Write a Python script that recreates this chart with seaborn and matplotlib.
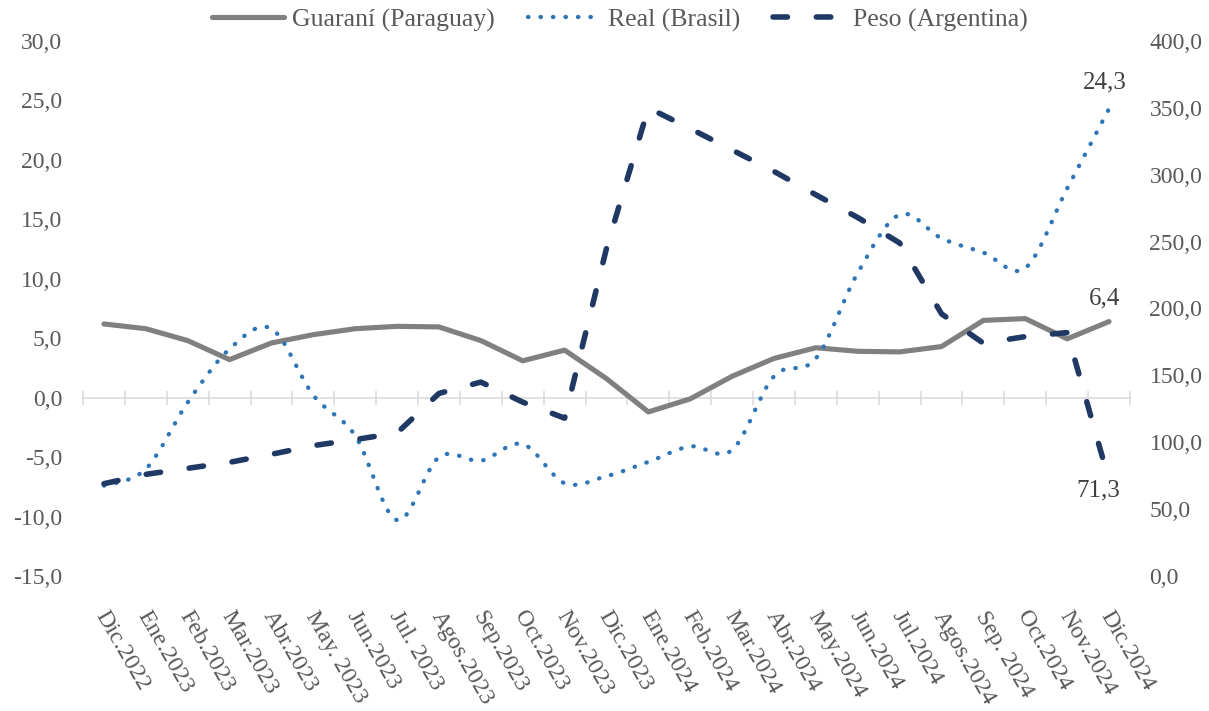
import numpy as np
import pandas as pd
import matplotlib
matplotlib.use("Agg")
import matplotlib.pyplot as plt
import matplotlib.transforms as mtransforms
import seaborn as sns
from matplotlib.path import Path
from matplotlib.patches import PathPatch
from matplotlib.lines import Line2D

categories = ["Dic.2022", "Ene.2023", "Feb.2023", "Mar.2023", "Abr.2023", "May. 2023",
              "Jun.2023", "Jul. 2023", "Agos.2023", "Sep.2023", "Oct.2023", "Nov.2023",
              "Dic.2023", "Ene.2024", "Feb.2024", "Mar.2024", "Abr.2024", "May.2024",
              "Jun.2024", "Jul.2024", "Agos.2024", "Sep. 2024", "Oct.2024", "Nov.2024",
              "Dic.2024"]
guarani = [6.2, 5.8, 4.8, 3.2, 4.6, 5.3, 5.8, 6.0, 5.95, 4.8, 3.1, 4.0, 1.6,
           -1.2, -0.1, 1.8, 3.3, 4.2, 3.9, 3.85, 4.3, 6.5, 6.65, 4.95, 6.4]
real = [-7.4, -6.0, -0.4, 4.1, 5.8, 0.2, -3.2, -10.3, -5.0, -5.3, -3.9, -7.2, -6.6,
        -5.4, -4.1, -4.4, 1.8, 3.3, 10.5, 15.4, 13.4, 12.2, 10.9, 17.6, 24.3]
peso = [69, 76, 80.5, 85, 91, 97.5, 102, 107, 136.5, 145, 130, 118, 245,
        350, 334.5, 318.5, 302.5, 285, 268, 249, 196, 174, 179, 182, 71.3]
left_ticks = list(range(-15, 31, 5))
right_ticks = list(range(0, 401, 50))

COL_G = "#808080"
COL_R = "#2E75B6"
COL_P = "#1F3864"
TXT = "#595959"

sns.set_theme(style="white")
plt.rcParams["font.family"] = ["Liberation Serif", "DejaVu Serif"]

W, H = 1209, 711
fig = plt.figure(figsize=(W / 100, H / 100), dpi=100)
L, R, T, B = 83, 1130, 41, 576
ax = fig.add_axes([L / W, 1 - B / H, (R - L) / W, (B - T) / H])
ax2 = ax.twinx()

x = np.arange(len(categories))
df = pd.DataFrame({"x": x, "guarani": guarani, "real": real, "peso": peso})

# Guaraní (left axis)
sns.lineplot(data=df, x="x", y="guarani", ax=ax, color=COL_G, lw=3.7,
             solid_joinstyle="round", legend=False, zorder=3)


# Real (left axis) - smoothed line like the spreadsheet chart
def smooth_path(xs, ys):
    pts = np.column_stack([xs, ys]).astype(float)
    n = len(pts)
    verts = [pts[0]]
    codes = [Path.MOVETO]
    for i in range(n - 1):
        p0 = pts[i - 1] if i > 0 else pts[i]
        p1 = pts[i]
        p2 = pts[i + 1]
        p3 = pts[i + 2] if i + 2 < n else pts[i + 1]
        c1 = p1 + (p2 - p0) / 6.0
        c2 = p2 - (p3 - p1) / 6.0
        verts += [c1, c2, p2]
        codes += [Path.CURVE4] * 3
    return Path(verts, codes)


patch = PathPatch(smooth_path(df["x"], df["real"]), fill=False, edgecolor=COL_R,
                  lw=3.1, linestyle=(0, (0.1, 2.8)), capstyle="round", zorder=4)
ax.add_patch(patch)

# Peso (right axis)
sns.lineplot(data=df, x="x", y="peso", ax=ax2, color=COL_P, lw=4.0,
             linestyle=(0, (2.6, 5.2)), dash_capstyle="round", legend=False, zorder=5)

# spines first (moving a spine resets the ticks)
for s in ["left", "right", "top"]:
    ax.spines[s].set_visible(False)
ax.spines["bottom"].set_position(("data", 0))
ax.spines["bottom"].set_color("#D9D9D9")
ax.spines["bottom"].set_linewidth(1.1)
for s in ax2.spines.values():
    s.set_visible(False)

# axes limits / ticks
ax.set_xlim(-0.5, len(categories) - 0.5)
ax.set_ylim(-15, 30)
ax2.set_ylim(0, 400)

fmt = lambda v: f"{v:.1f}".replace(".", ",")
ax.set_yticks(left_ticks)
ax.set_yticklabels([fmt(v) for v in left_ticks])
ax2.set_yticks(right_ticks)
ax2.set_yticklabels([fmt(v) for v in right_ticks])
ax.tick_params(axis="y", length=0, pad=15, labelsize=17, labelcolor=TXT)
ax2.tick_params(axis="y", length=0, pad=14, labelsize=17, labelcolor=TXT)

ax.set_xticks(np.arange(-0.5, len(categories), 1.0), minor=True)
ax.tick_params(axis="x", which="major", length=0, pad=151, labelsize=17.3, labelcolor=TXT)
ax.tick_params(axis="x", which="minor", length=10, width=1.1, direction="inout",
               color="#D9D9D9", bottom=True)
ax.set_xticks(x, labels=categories)
shift = mtransforms.ScaledTranslation(4 / 72, 0, fig.dpi_scale_trans)
for lab in ax.get_xticklabels():
    lab.set_rotation(-60)
    lab.set_ha("left")
    lab.set_va("top")
    lab.set_rotation_mode("anchor")
    lab.set_transform(lab.get_transform() + shift)

ax.set_xlabel("")
ax.set_ylabel("")
ax2.set_ylabel("")
ax.grid(False)
ax2.grid(False)

# value labels
ax.annotate("24,3", (x[-1], real[-1]), xytext=(-3, 19), textcoords="offset points",
            ha="center", va="center", fontsize=18, color="#404040")
ax.annotate("6,4", (x[-1], guarani[-1]), xytext=(-3, 17), textcoords="offset points",
            ha="center", va="center", fontsize=18, color="#404040")
ax2.annotate("71,3", (x[-1], peso[-1]), xytext=(-8, -7), textcoords="offset points",
             ha="center", va="center", fontsize=18, color="#404040")

# legend
handles = [
    Line2D([], [], color=COL_G, lw=3.7),
    Line2D([], [], color=COL_R, lw=3.1, linestyle=(0, (0.1, 2.8)), dash_capstyle="round"),
    Line2D([], [], color=COL_P, lw=4.0, linestyle=(0, (2.6, 5.2)), dash_capstyle="round"),
]
labels = ["Guaraní (Paraguay)", "Real (Brasil)", "Peso (Argentina)"]
fig.legend(handles, labels, loc="center", bbox_to_anchor=(620 / W, 1 - 20 / H), ncol=3,
           frameon=False, fontsize=18.5, handlelength=2.8, handletextpad=0.3,
           columnspacing=1.3, labelcolor=TXT, borderaxespad=0, borderpad=0)

fig.savefig("out.png", dpi=100)
